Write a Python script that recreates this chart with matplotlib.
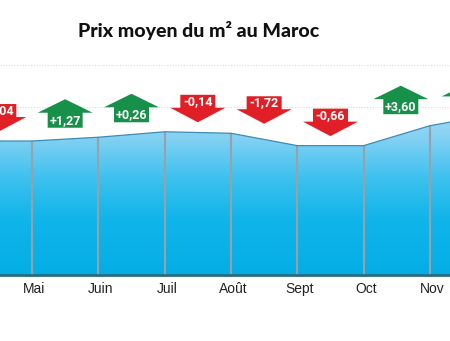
import numpy as np
import matplotlib
matplotlib.use("Agg")
import matplotlib.pyplot as plt
import matplotlib.transforms as mtransforms
from matplotlib.patches import Polygon
from matplotlib.colors import LinearSegmentedColormap

# Average price per m² (DH) by month, and the monthly change labels (%)
mois = ["Avr", "Mai", "Juin", "Juil", "Août", "Sept", "Oct", "Nov", "Déc"]
prix = [6380, 6380, 6560, 6820, 6750, 6160, 6160, 7110, 7670]
variations = ["-0,04", "+1,27", "+0,26", "-0,14", "-1,72", "-0,66", "+3,60", "+1,50"]

W, H = 450, 341
fig = plt.figure(figsize=(W / 100, H / 100), dpi=100)
ax = fig.add_axes([0, 66 / H, 1, 210 / H])

x = np.arange(len(mois))
px_per_month = 66.33
XLIM = (1 - 32 / px_per_month, 1 + 418 / px_per_month)
YLIM = (0, 10000)

# light grid behind the area
for g in range(2000, 10001, 2000):
    ax.axhline(g, color="#dcdcdc", lw=0.8, ls=(0, (1, 1.5)), zorder=0)

# gradient-filled area under the price line
verts = [(x[0], 0)] + list(zip(x, prix)) + [(x[-1], 0)]
clip = Polygon(verts, closed=True, facecolor="none", edgecolor="none")
ax.add_patch(clip)
cmap = LinearSegmentedColormap.from_list(
    "bleu",
    [(0.0, "#03aee6"), (0.35, "#10b5ea"), (0.62, "#42c2ef"), (0.85, "#84d1f3"), (1.0, "#a2dbf5")],
)
grad = np.linspace(0, 1, 256).reshape(-1, 1)
im = ax.imshow(grad, cmap=cmap, origin="lower", aspect="auto",
               extent=[x[0], x[-1], 0, max(prix)], zorder=1, interpolation="bicubic")
im.set_clip_path(clip)

# month separators and outline
ax.vlines(x, 0, prix, color="#9aa0a8", lw=1.5, zorder=2)
ax.plot(x, prix, color="#3a8db6", lw=0.9, zorder=3)
ax.axhline(0, color="#2b6c7e", lw=2.0, zorder=4, clip_on=False)

ax.set_xticks(x)
ax.set_xticklabels(mois, family=["Liberation Sans", "DejaVu Sans"], fontsize=10, color="#222222")
ax.tick_params(axis="x", length=0, pad=5)
nudge = mtransforms.ScaledTranslation(2.5 / 100, 0, fig.dpi_scale_trans)
for t in ax.get_xticklabels():
    t.set_transform(t.get_transform() + nudge)
ax.set_yticks([])
for s in ax.spines.values():
    s.set_visible(False)
ax.set_xlim(*XLIM)
ax.set_ylim(*YLIM)

# change arrows between consecutive months
green, red = "#17904a", "#e11f26"
head_w, body_w, head_h, body_h, gap = 55, 35, 13.5, 15, 9.5
x_shift = [0, 0, 0, 0, 0, 0, 4, 6]
y_shift = [0, 0, 0, 0, 0, 0, 2, -7]
for i, lab in enumerate(variations):
    xm = i + 0.5
    base = max(prix[i], prix[i + 1])
    up = lab.startswith("+")
    hw, bw = head_w / 2, body_w / 2
    g0 = gap + y_shift[i]
    if up:
        b0 = g0
        b1 = g0 + body_h
        shape = [(-bw, b0), (bw, b0), (bw, b1), (hw, b1), (0, b1 + head_h),
                 (-hw, b1), (-bw, b1)]
        ty = (b0 + b1) / 2
        col = green
    else:
        tip = g0
        h1 = g0 + head_h + 1
        b1 = h1 + body_h - 2
        shape = [(0, tip), (hw, h1), (bw, h1), (bw, b1), (-bw, b1), (-bw, h1), (-hw, h1)]
        ty = (h1 + b1) / 2
        col = red
    tr = mtransforms.Affine2D().translate(x_shift[i], 0).scale(fig.dpi / 100) + \
        mtransforms.ScaledTranslation(xm, base, ax.transData)
    ax.add_patch(Polygon(shape, closed=True, facecolor=col, edgecolor="none",
                         transform=tr, zorder=5, clip_on=False))
    ax.text(0, ty, lab, transform=tr, ha="center", va="center", color="white",
            fontsize=9, fontweight="bold",
            family=["Roboto", "DejaVu Sans"], zorder=6, clip_on=False)

fig.text(78 / W, 1 - 36.5 / H, "Prix moyen du m² au Maroc", ha="left", va="baseline",
         fontsize=14, fontweight="black", family=["Lato", "DejaVu Sans"], color="#111111")

fig.savefig("out.png", dpi=100)
